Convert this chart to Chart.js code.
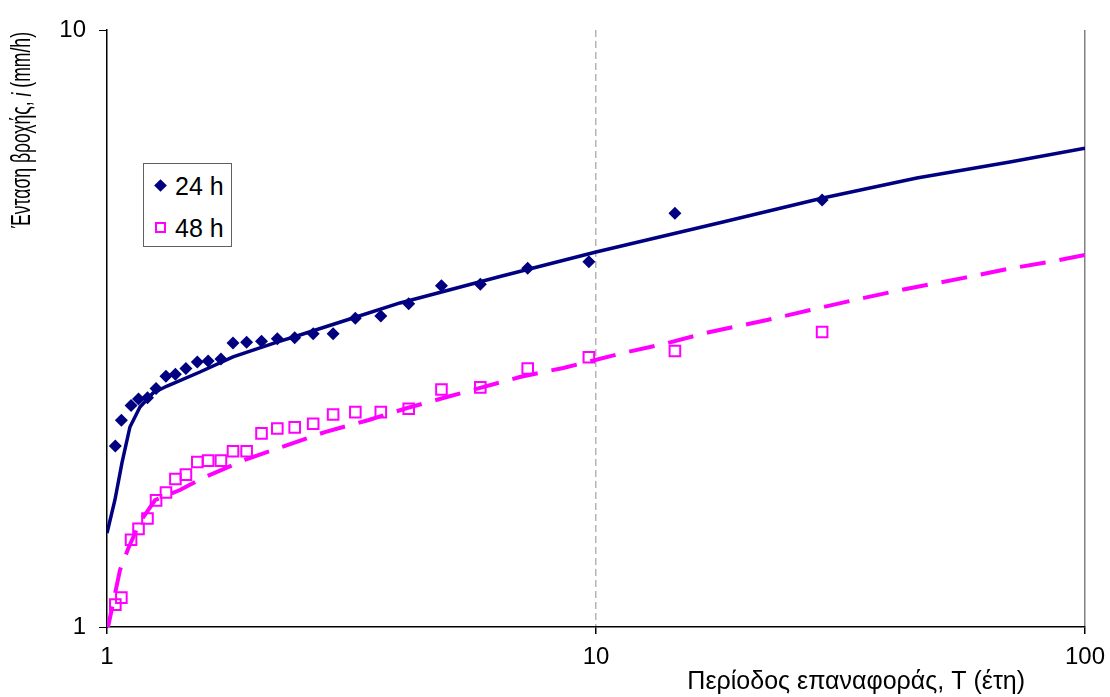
<!DOCTYPE html>
<html>
<head>
<meta charset="utf-8">
<script src="https://cdn.jsdelivr.net/npm/chart.js@4.4.1/dist/chart.umd.min.js"></script>
<style>
    body { margin: 0; background: #fff; }
    #wrap { position: relative; width: 1110px; height: 697px; }
    #legend {
        position: absolute; left: 143px; top: 163px; width: 87px; height: 82px;
        border: 1px solid #606060; background: #fff;
        font-family: 'Liberation Sans', Arial, sans-serif; font-size: 25px; color: #000;
    }
    .lbl { position: absolute; left: 31px; height: 30px; line-height: 30px; white-space: nowrap; }
    .diamond { position: absolute; width: 9px; height: 9px; background: #000080; transform: rotate(45deg); }
    .square { position: absolute; width: 7px; height: 7px; border: 2px solid #ff00ff; }
</style>
</head>
<body>
<div id="wrap">
    <canvas id="rainChart" width="1110" height="697"></canvas>
    <div id="legend">
        <div class="diamond" style="left:12px; top:17px;"></div>
        <div class="lbl" style="top:7px;">24 h</div>
        <div class="square" style="left:11px; top:58px;"></div>
        <div class="lbl" style="top:49px;">48 h</div>
    </div>
</div>
<script>
var xTicks = [1, 10, 100];
var yTicks = [1, 10];

// return period of each ranked value (years)
var returnPeriods = [29, 14.5, 9.67, 7.25, 5.8, 4.83, 4.14, 3.63, 3.22, 2.9, 2.64, 2.42, 2.23, 2.07,
    1.93, 1.81, 1.71, 1.61, 1.53, 1.45, 1.38, 1.32, 1.26, 1.21, 1.16, 1.12, 1.07, 1.04];
var intensity24h = [5.19, 4.93, 4.09, 3.99, 3.75, 3.73, 3.48, 3.32, 3.29, 3.10, 3.10, 3.05, 3.04, 3.01,
    3.00, 2.99, 2.81, 2.79, 2.78, 2.71, 2.65, 2.63, 2.51, 2.42, 2.41, 2.35, 2.22, 2.01];
var intensity48h = [3.12, 2.90, 2.83, 2.71, 2.52, 2.50, 2.32, 2.29, 2.29, 2.27, 2.19, 2.16, 2.15, 2.11,
    1.97, 1.97, 1.90, 1.90, 1.89, 1.80, 1.77, 1.68, 1.63, 1.52, 1.46, 1.40, 1.12, 1.09];

// fitted curves
var fitT24 = [1, 1.038, 1.073, 1.114, 1.168, 1.242, 1.327, 1.549, 1.81, 2.227, 2.481, 3.138, 3.974, 6.364, 10, 18.18, 29.1, 45.3, 70.2, 100];
var fitI24 = [1.437, 1.632, 1.883, 2.163, 2.336, 2.466, 2.533, 2.674, 2.834, 3.001, 3.084, 3.28, 3.49, 3.865, 4.247, 4.768, 5.23, 5.65, 6.01, 6.34];
var fitT48 = [1, 1.024, 1.063, 1.104, 1.168, 1.254, 1.41, 1.571, 1.914, 2.277, 2.79, 3.431, 4.109, 4.955, 6.99, 8.57,
    11.36, 14.0, 17.1, 22.5, 28.0, 34.3, 42.1, 56.2, 69.7, 84.9, 100];
var fitI48 = [0.981, 1.076, 1.246, 1.351, 1.499, 1.632, 1.696, 1.777, 1.905, 2.002, 2.121, 2.222, 2.327, 2.428, 2.623, 2.716,
    2.877, 2.99, 3.12, 3.27, 3.41, 3.54, 3.67, 3.84, 3.98, 4.09, 4.20];

var FONT = "'Liberation Sans', Arial, sans-serif";

function toPoints(xs, ys) {
    return xs.map(function (x, i) { return { x: x, y: ys[i] }; });
}

function fixTicks(values) {
    return function (scale) {
        scale.ticks = values.map(function (v) { return { value: v }; });
    };
}

// axis titles (y title has an italic i)
var axisTitles = {
    id: 'axisTitles',
    afterDraw: function (chart) {
        var ctx = chart.ctx;
        var area = chart.chartArea;
        ctx.save();
        ctx.fillStyle = '#000';
        ctx.textBaseline = 'middle';
        ctx.textAlign = 'right';
        ctx.font = '25px ' + FONT;
        ctx.fillText('Περίοδος επαναφοράς, T (έτη)', area.right - 60, area.bottom + 55);

        var parts = [['Ένταση βροχής, ', ''], ['i', 'italic '], [' (mm/h)', '']];
        var size = 27;
        var total = 0;
        parts.forEach(function (p) {
            ctx.font = p[1] + size + 'px ' + FONT;
            total += ctx.measureText(p[0]).width;
        });
        var len = 196;
        ctx.translate(23, area.top + 2 + len);
        ctx.rotate(-Math.PI / 2);
        ctx.scale(len / total, 1);
        ctx.textAlign = 'left';
        var pos = 0;
        parts.forEach(function (p) {
            ctx.font = p[1] + size + 'px ' + FONT;
            ctx.fillText(p[0], pos, 0);
            pos += ctx.measureText(p[0]).width;
        });
        ctx.restore();
    }
};

var ctx = document.getElementById('rainChart');

var rainChart = new Chart(ctx, {
    type: 'scatter',
    data: {
        datasets: [{
            label: '24 h',
            data: toPoints(returnPeriods, intensity24h),
            pointStyle: 'rectRot',
            pointRadius: 6.5,
            backgroundColor: '#000080',
            borderColor: '#000080',
            borderWidth: 0,
            order: 1
        }, {
            label: '48 h',
            data: toPoints(returnPeriods, intensity48h),
            pointStyle: 'rect',
            pointRadius: 7.5,
            backgroundColor: 'rgba(0,0,0,0)',
            borderColor: '#ff00ff',
            borderWidth: 2,
            order: 2
        }, {
            label: 'fit 24 h',
            data: toPoints(fitT24, fitI24),
            showLine: true,
            pointRadius: 0,
            borderColor: '#000080',
            borderWidth: 3.5,
            tension: 0,
            order: 3
        }, {
            label: 'fit 48 h',
            data: toPoints(fitT48, fitI48),
            showLine: true,
            pointRadius: 0,
            borderColor: '#ff00ff',
            borderWidth: 4,
            borderDash: [26, 14],
            tension: 0,
            order: 4
        }]
    },
    options: {
        responsive: false,
        animation: false,
        layout: { padding: { left: 0, top: 30, right: 25, bottom: 0 } },
        plugins: {
            legend: { display: false },
            tooltip: { enabled: false }
        },
        scales: {
            x: {
                type: 'logarithmic',
                min: 1,
                max: 100,
                afterBuildTicks: fixTicks(xTicks),
                afterFit: function (scale) {
                    scale.height = 70;
                    scale.paddingRight = 20;
                },
                ticks: {
                    color: '#000',
                    font: { family: FONT, size: 24 },
                    padding: 9,
                    maxRotation: 0,
                    callback: function (v) { return String(v); }
                },
                grid: {
                    drawTicks: true,
                    tickLength: 7,
                    tickColor: '#000',
                    tickBorderDash: [],
                    lineWidth: 1.5,
                    color: function (c) {
                        if (!c.tick) return 'rgba(0,0,0,0)';
                        if (c.tick.value === 10) return '#b4b4b4';
                        if (c.tick.value === 100) return '#808080';
                        return 'rgba(0,0,0,0)';
                    }
                },
                border: {
                    color: '#000',
                    width: 1.5,
                    dash: function (c) {
                        return (c.tick && c.tick.value === 10) ? [7, 4] : [];
                    }
                }
            },
            y: {
                type: 'logarithmic',
                min: 1,
                max: 10,
                afterBuildTicks: fixTicks(yTicks),
                afterFit: function (scale) { scale.width = 107; },
                ticks: {
                    color: '#000',
                    font: { family: FONT, size: 24 },
                    padding: 13,
                    callback: function (v) { return String(v); }
                },
                grid: {
                    drawTicks: true,
                    tickLength: 8,
                    tickColor: '#000',
                    color: 'rgba(0,0,0,0)'
                },
                border: { color: '#000', width: 1.5 }
            }
        }
    },
    plugins: [axisTitles]
});
</script>
</body>
</html>
